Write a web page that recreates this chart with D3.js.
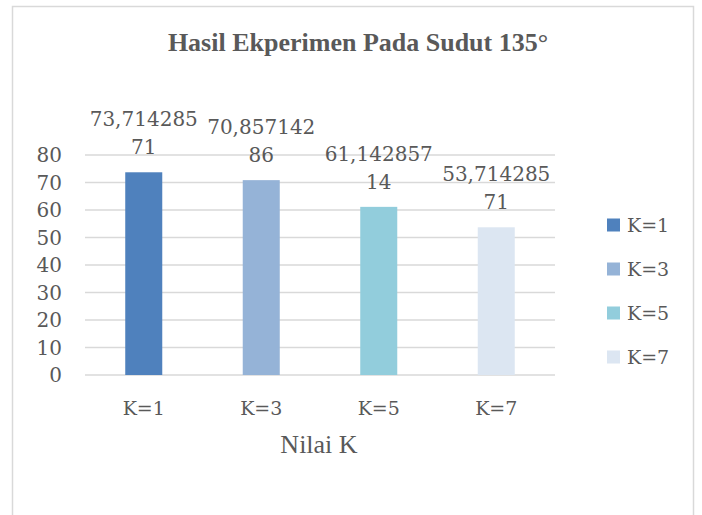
<!DOCTYPE html>
<meta charset="utf-8">
<style>
body { margin: 0; background: #fff; }
text { fill: #595959; }
.num { font-family: "DejaVu Serif", serif; font-size: 20px; }
.cat { font-family: "DejaVu Serif", serif; font-size: 19px; }
</style>
<svg width="702" height="515"></svg>
<script src="https://cdn.jsdelivr.net/npm/d3@7"></script>
<script>

var categories = ["K=1", "K=3", "K=5", "K=7"],
    values = [73.71428571, 70.85714286, 61.14285714, 53.71428571],
    labels = ["73,71428571", "70,85714286", "61,14285714", "53,71428571"],
    colors = ["#4f81bd", "#95b3d7", "#92cddc", "#dce6f2"],
    yTicks = [0, 10, 20, 30, 40, 50, 60, 70, 80];

var svg = d3.select("svg");

// chart frame
svg.append("rect")
    .attr("x", 12.5).attr("y", 6.5)
    .attr("width", 681).attr("height", 520)
    .attr("fill", "none")
    .attr("stroke", "#d9d9d9")
    .attr("stroke-width", 1.5);

var x = d3.scaleBand()
    .domain(categories)
    .range([85, 555])
    .paddingInner(0.685)
    .paddingOuter(0.3425);

var y = d3.scaleLinear()
    .domain([0, 80])
    .range([375, 155]);

// gridlines
svg.append("g").selectAll("line")
  .data(yTicks)
  .enter().append("line")
    .attr("x1", 85).attr("x2", 555)
    .attr("y1", function(d) { return y(d); })
    .attr("y2", function(d) { return y(d); })
    .attr("stroke", "#d9d9d9")
    .attr("stroke-width", 1.5);

// y tick labels
svg.append("g").selectAll("text")
  .data(yTicks)
  .enter().append("text")
    .attr("class", "num")
    .attr("x", 62)
    .attr("y", function(d) { return y(d) + 7; })
    .attr("text-anchor", "end")
    .text(function(d) { return d; });

// bars
svg.append("g").selectAll("rect")
  .data(values)
  .enter().append("rect")
    .attr("x", function(d, i) { return x(categories[i]); })
    .attr("y", function(d) { return y(d); })
    .attr("width", x.bandwidth())
    .attr("height", function(d) { return y(0) - y(d); })
    .attr("fill", function(d, i) { return colors[i]; });

// data labels, wrapped in two lines like the original
var lab = svg.append("g").selectAll("text")
  .data(values)
  .enter().append("text")
    .attr("class", "num")
    .attr("text-anchor", "middle")
    .attr("x", function(d, i) { return x(categories[i]) + x.bandwidth() / 2; })
    .attr("y", function(d) { return y(d) - 46; });

lab.append("tspan")
    .attr("x", function(d, i) { return x(categories[i]) + x.bandwidth() / 2; })
    .text(function(d, i) { return labels[i].slice(0, 9); });
lab.append("tspan")
    .attr("x", function(d, i) { return x(categories[i]) + x.bandwidth() / 2; })
    .attr("dy", 28)
    .text(function(d, i) { return labels[i].slice(9); });

// x labels
svg.append("g").selectAll("text")
  .data(categories)
  .enter().append("text")
    .attr("class", "cat")
    .attr("text-anchor", "middle")
    .attr("x", function(d) { return x(d) + x.bandwidth() / 2; })
    .attr("y", 415)
    .text(function(d) { return d; });

// axis title
svg.append("text")
    .attr("x", 319).attr("y", 453)
    .attr("text-anchor", "middle")
    .style("font-family", "'Liberation Serif', serif")
    .style("font-size", "26px")
    .text("Nilai K");

// title
svg.append("text")
    .attr("x", 358).attr("y", 51)
    .attr("text-anchor", "middle")
    .style("font-family", "'Liberation Serif', serif")
    .style("font-size", "26px")
    .style("font-weight", "bold")
    .text("Hasil Ekperimen Pada Sudut 135°");

// legend
var leg = svg.append("g").selectAll("g")
  .data(categories)
  .enter().append("g")
    .attr("transform", function(d, i) { return "translate(607," + (225 + i * 44) + ")"; });

leg.append("rect")
    .attr("x", 0).attr("y", -6.5)
    .attr("width", 13).attr("height", 13)
    .attr("fill", function(d, i) { return colors[i]; });

leg.append("text")
    .attr("class", "cat")
    .attr("x", 20).attr("y", 7)
    .text(function(d) { return d; });

</script>
